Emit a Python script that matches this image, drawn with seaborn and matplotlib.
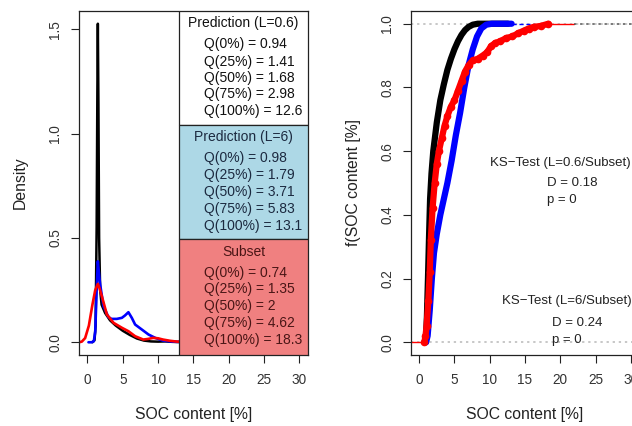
import matplotlib
matplotlib.use("Agg")
import matplotlib.pyplot as plt
import matplotlib.transforms as mtransforms
from matplotlib.patches import Rectangle
import seaborn as sns

# density curves
dens_black_x = [0.7, 1.0, 1.15, 1.3, 1.4, 1.47, 1.55, 1.65, 1.8, 2.0, 2.5, 3.2, 4.0, 5.0, 6.0, 7.0, 8.0, 9.0, 10.0, 11.0, 12.0, 13.0]
dens_black_y = [0.0, 0.01, 0.08, 0.55, 1.2, 1.527, 1.15, 0.5, 0.25, 0.18, 0.14, 0.105, 0.08, 0.055, 0.035, 0.018, 0.008, 0.004, 0.003, 0.004, 0.002, 0.001]

dens_blue_x = [0.14, 0.6, 0.9, 1.1, 1.3, 1.47, 1.6, 1.8, 2.27, 2.97, 3.4, 3.68, 4.15, 4.87, 5.3, 5.8, 6.28, 6.75, 7.7, 8.65, 9.6, 10.7, 11.7, 12.7, 13.0]
dens_blue_y = [0.0, 0.0, 0.005, 0.05, 0.25, 0.388, 0.34, 0.276, 0.172, 0.121, 0.112, 0.112, 0.112, 0.117, 0.128, 0.144, 0.117, 0.085, 0.061, 0.037, 0.021, 0.008, 0.004, 0.002, 0.002]

dens_red_x = [-1.2, -0.8, -0.33, 0.2, 0.7, 1.1, 1.47, 1.7, 2.04, 2.75, 3.7, 4.9, 5.8, 6.75, 7.9, 8.6, 9.3, 10.0, 10.7, 11.7, 12.7, 13.0]
dens_red_y = [0.0, 0.003, 0.02, 0.08, 0.18, 0.25, 0.28, 0.26, 0.22, 0.133, 0.093, 0.069, 0.053, 0.029, 0.013, 0.016, 0.021, 0.019, 0.013, 0.007, 0.003, 0.003]

ecdf_black_x = [0.94, 1.1, 1.25, 1.4, 1.55, 1.75, 2.0, 2.5, 3.0, 3.5, 4.0, 4.5, 5.0, 5.5, 6.0, 6.5, 7.0, 7.6, 8.3, 12.6]
ecdf_black_y = [0.0, 0.08, 0.2, 0.33, 0.45, 0.53, 0.6, 0.69, 0.76, 0.81, 0.855, 0.89, 0.92, 0.945, 0.965, 0.98, 0.99, 0.997, 1.0, 1.0]

ecdf_blue_x = [0.98, 1.2, 1.5, 1.8, 2.1, 2.5, 3.0, 3.5, 4.0, 4.6, 5.2, 5.8, 6.4, 7.0, 7.6, 8.2, 8.8, 9.5, 10.3, 13.1]
ecdf_blue_y = [0.0, 0.02, 0.1, 0.2, 0.28, 0.34, 0.4, 0.45, 0.5, 0.57, 0.65, 0.72, 0.8, 0.87, 0.92, 0.96, 0.985, 0.997, 1.0, 1.0]

ecdf_red_x = [0.74, 0.9, 1.05, 1.3, 1.5, 1.65, 1.9, 2.2, 2.5, 2.8, 3.2, 3.6, 4.0, 4.5, 5.0, 5.5, 6.0, 6.5, 7.0, 7.6,
              8.3, 9.0, 9.6, 10.2, 10.8, 11.5, 12.3, 13.2, 14.0, 14.8, 15.5, 16.2, 17.2, 18.3]
ecdf_red_y = [0.0, 0.02, 0.05, 0.13, 0.22, 0.32, 0.42, 0.5, 0.56, 0.6, 0.64, 0.68, 0.71, 0.74, 0.76, 0.79, 0.82, 0.85, 0.87, 0.885,
              0.89, 0.9, 0.91, 0.93, 0.94, 0.945, 0.955, 0.96, 0.97, 0.978, 0.985, 0.99, 0.993, 1.0]

# quantile tables
box_titles = ["Prediction (L=0.6)", "Prediction (L=6)", "Subset"]
box_colors = ["white", "#ADD8E6", "#F08080"]
box_text_colors = ["#111111", "#1c2a40", "#4a1616"]
q_levels = [0, 25, 50, 75, 100]
q_pred06 = ["0.94", "1.41", "1.68", "2.98", "12.6"]
q_pred6 = ["0.98", "1.79", "3.71", "5.83", "13.1"]
q_subset = ["0.74", "1.35", "2", "4.62", "18.3"]

ks_titles = ["KS\u2212Test (L=0.6/Subset)", "KS\u2212Test (L=6/Subset)"]
ks_d = ["0.18", "0.24"]
ks_p = ["0", "0"]

sns.set_style("ticks")
plt.rcParams["font.family"] = ["Liberation Sans", "DejaVu Sans"]
plt.rcParams["axes.unicode_minus"] = True

fig = plt.figure(figsize=(6.32, 4.26), dpi=100)
ax1 = fig.add_axes([0.125, 0.1667, 0.3619, 0.8075])
ax2 = fig.add_axes([0.6498, 0.1667, 0.3619, 0.8075])

tick_col = "#333333"
for ax in (ax1, ax2):
    for sp in ax.spines.values():
        sp.set_color("#222222")
        sp.set_linewidth(0.9)
    ax.tick_params(axis="both", direction="out", length=6, width=0.8, color="#222222",
                   labelsize=9.8, labelcolor=tick_col, pad=7, bottom=True, left=True,
                   top=False, right=False)
    ax.tick_params(axis="y", labelrotation=90, pad=6)
    ax.set_xlim(-1.2, 31.2)
    ax.set_xticks([0, 5, 10, 15, 20, 25, 30])

# ---- left: densities
sns.lineplot(x=dens_black_x, y=dens_black_y, ax=ax1, color="black", lw=1.8, estimator=None, sort=False)
sns.lineplot(x=dens_blue_x, y=dens_blue_y, ax=ax1, color="blue", lw=1.9, estimator=None, sort=False)
sns.lineplot(x=dens_red_x, y=dens_red_y, ax=ax1, color="red", lw=1.9, estimator=None, sort=False)
ax1.set_ylim(-0.061, 1.588)
ax1.set_yticks([0.0, 0.5, 1.0, 1.5])
ax1.set_yticklabels(["0.0", "0.5", "1.0", "1.5"], va="center")
ax1.set_xlabel("SOC content [%]", fontsize=11.3, color="#222222")
ax1.set_ylabel("Density", fontsize=11.3, color="#222222")
ax1.xaxis.set_label_coords(0.5, -0.152)
ax1.yaxis.set_label_coords(-0.225, 0.5)

trans = mtransforms.blended_transform_factory(ax1.transData, ax1.transAxes)
edges = [1.0, 0.6677, 0.3372, 0.0]
title_y = [0.964, 0.633, 0.300]
line_y = [[0.903, 0.853, 0.806, 0.758, 0.709],
          [0.572, 0.523, 0.473, 0.424, 0.376],
          [0.239, 0.191, 0.142, 0.094, 0.044]]
for i, vals in enumerate([q_pred06, q_pred6, q_subset]):
    ax1.add_patch(Rectangle((13.0, edges[i + 1]), 18.2, edges[i] - edges[i + 1], transform=trans,
                            facecolor=box_colors[i], edgecolor="#222222", lw=0.9, zorder=5))
    ax1.text(22.1, title_y[i], box_titles[i], transform=trans, ha="center", va="center",
             fontsize=10, color=box_text_colors[i], zorder=6)
    for j, (q, v) in enumerate(zip(q_levels, vals)):
        ax1.text(16.5, line_y[i][j], f"Q({q}%) = {v}", transform=trans, ha="left", va="center",
                 fontsize=10, color=box_text_colors[i], zorder=6)

# ---- right: ecdfs
ax2.axhline(0, color="#b8b8b8", ls=(0, (1.5, 2.5)), lw=1.1, zorder=1)
ax2.axhline(1, color="#b8b8b8", ls=(0, (1.5, 2.5)), lw=1.1, zorder=1)
ax2.plot([-1.2, ecdf_red_x[0]], [0, 0], color="red", lw=1.0, zorder=2)
ax2.plot([ecdf_blue_x[-1], 16.2], [1, 1], color="blue", lw=1.0, ls=(0, (3, 2)), zorder=2)
ax2.plot([ecdf_red_x[-1], 22.0], [1, 1], color="red", lw=1.0, zorder=2)
ax2.plot([22.0, 31.2], [1, 1], color="#555555", lw=1.1, ls=(0, (1.5, 2.5)), zorder=2)

sns.lineplot(x=ecdf_black_x, y=ecdf_black_y, ax=ax2, color="black", lw=4.5, estimator=None, sort=False,
             solid_capstyle="round")
sns.lineplot(x=ecdf_blue_x, y=ecdf_blue_y, ax=ax2, color="blue", lw=4.5, estimator=None, sort=False,
             solid_capstyle="round")
sns.lineplot(x=ecdf_red_x, y=ecdf_red_y, ax=ax2, color="red", lw=4.5, estimator=None, sort=False,
             marker="o", markersize=5.5, markeredgewidth=0, solid_capstyle="round")
ax2.set_ylim(-0.04, 1.04)
ax2.set_yticks([0.0, 0.2, 0.4, 0.6, 0.8, 1.0])
ax2.set_yticklabels(["0.0", "0.2", "0.4", "0.6", "0.8", "1.0"], va="center")
ax2.set_xlabel("SOC content [%]", fontsize=11.3, color="#222222")
ax2.set_ylabel("f(SOC content [%]", fontsize=11.3, color="#222222")
ax2.xaxis.set_label_coords(0.5, -0.152)
ax2.yaxis.set_label_coords(-0.215, 0.5)

ks_pos = [(10.1, 0.563, 18.1, 0.5, 0.447), (11.75, 0.128, 18.8, 0.061, 0.008)]
for (tx, ty, dx, dy, py), t, d, p in zip(ks_pos, ks_titles, ks_d, ks_p):
    ax2.text(tx, ty, t, ha="left", va="center", fontsize=9.5, color="#222222", clip_on=False)
    ax2.text(dx, dy, f"D = {d}", ha="left", va="center", fontsize=9.5, color="#222222")
    ax2.text(dx, py, f"p = {p}", ha="left", va="center", fontsize=9.5, color="#222222")

fig.savefig("out.png", dpi=100)
